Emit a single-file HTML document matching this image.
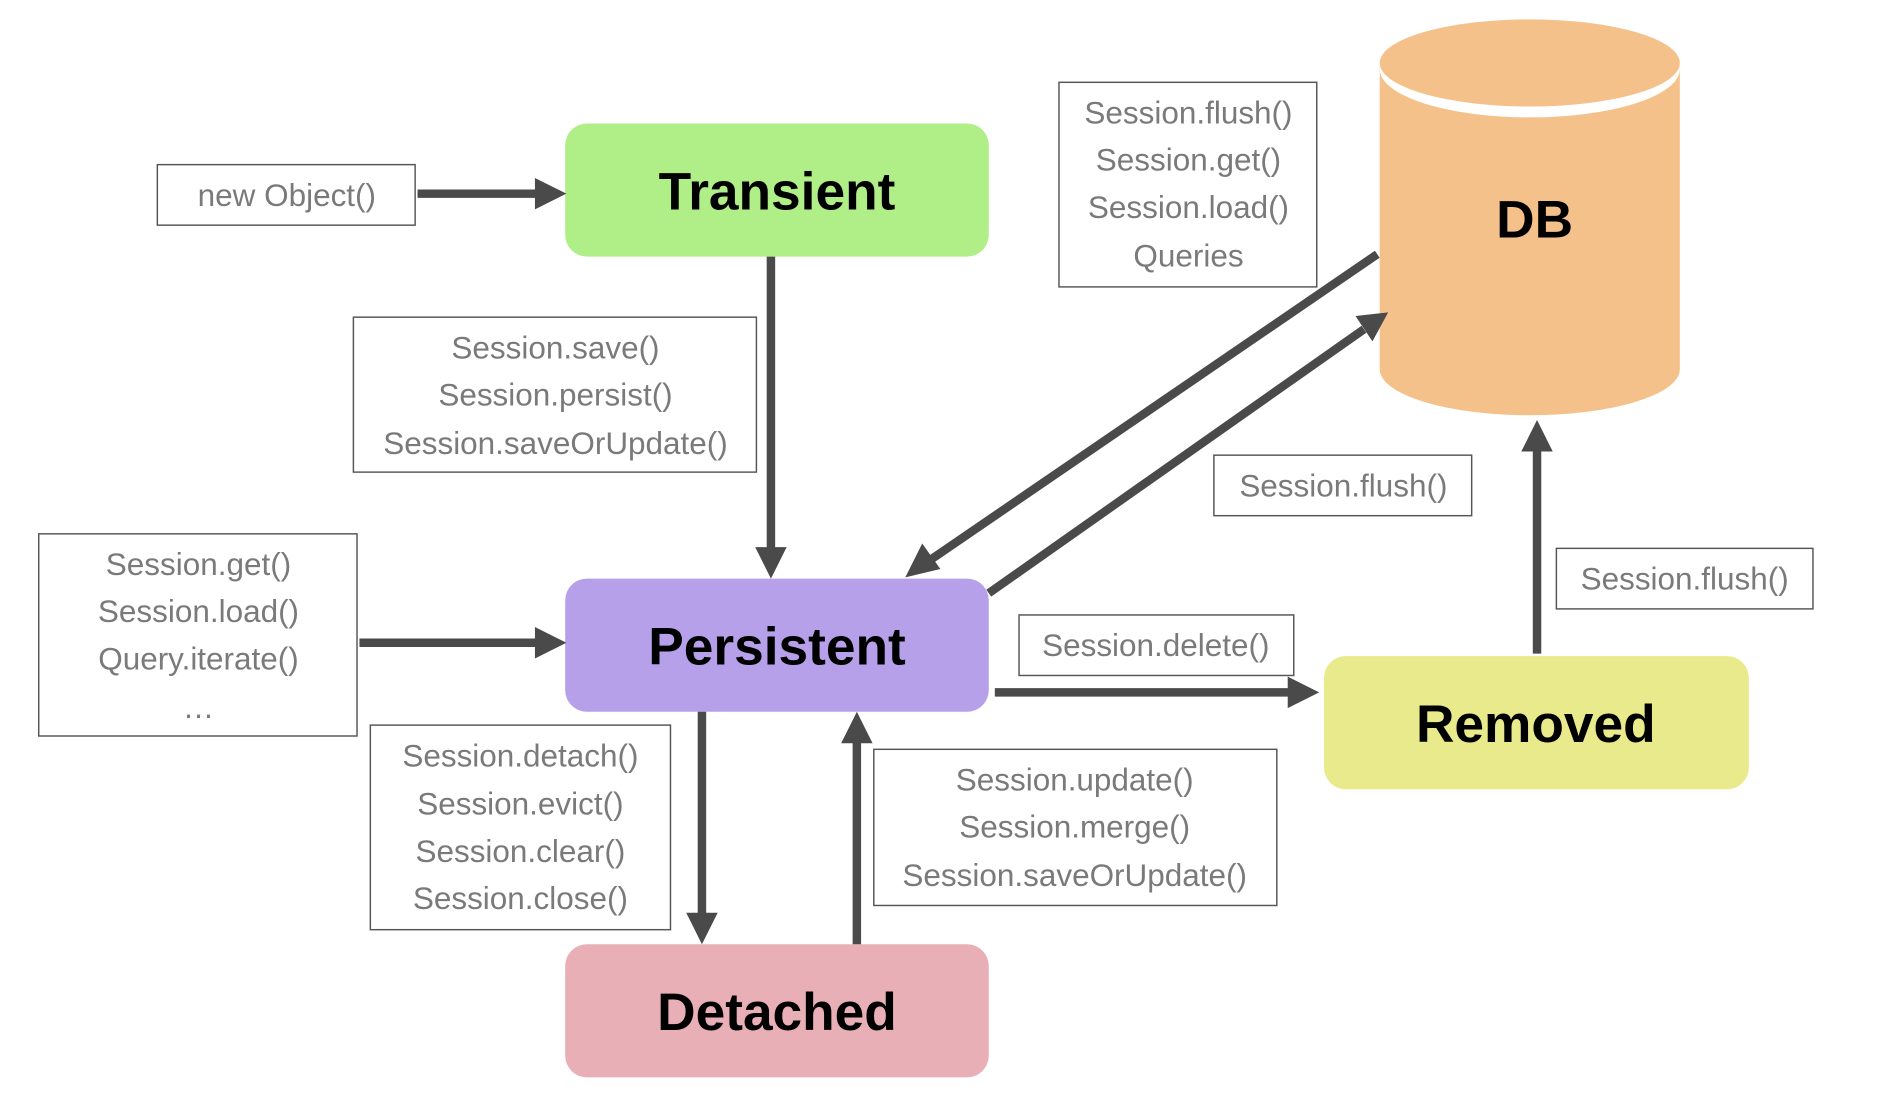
<!DOCTYPE html>
<html><head><meta charset="utf-8"><style>
html,body{margin:0;padding:0;background:#fff;}
svg{display:block;}
.lbl{font-family:"Liberation Sans",sans-serif;font-size:26px;fill:#7a7a7a;text-anchor:middle;}
.ttl{font-family:"Liberation Sans",sans-serif;font-size:44px;font-weight:bold;fill:#000;text-anchor:middle;}
.box{fill:#fff;stroke:#555;stroke-width:1.2;}
.ln{stroke:#4a4a4a;stroke-width:7;fill:none;}
.ah{fill:#4a4a4a;}
</style></head><body>
<svg width="1888" height="1104" viewBox="0 0 1560 912" preserveAspectRatio="none" xmlns="http://www.w3.org/2000/svg">
<!-- DB cylinder -->
<path d="M1140,55 L1140,305 A124,38 0 0 0 1388,305 L1388,55 Z" fill="#f5c18a"/>
<ellipse cx="1264" cy="57" rx="124" ry="40" fill="#fff"/>
<ellipse cx="1264" cy="52" rx="124" ry="36" fill="#f5c18a"/>
<text class="ttl" x="1268" y="196">DB</text>

<!-- nodes -->
<rect x="467" y="102" width="350" height="110" rx="18" fill="#b0ee88"/>
<text class="ttl" x="642" y="173">Transient</text>
<rect x="467" y="478" width="350" height="110" rx="18" fill="#b7a0ea"/>
<text class="ttl" x="642" y="549">Persistent</text>
<rect x="467" y="780" width="350" height="110" rx="18" fill="#e8b0b6"/>
<text class="ttl" x="642" y="851">Detached</text>
<rect x="1094" y="542" width="351" height="110" rx="18" fill="#e8ea8c"/>
<text class="ttl" x="1269" y="613">Removed</text>

<!-- arrows -->
<line class="ln" x1="345" y1="160" x2="445" y2="160"/><polygon class="ah" points="468,160 442,147 442,173"/>
<line class="ln" x1="637" y1="212" x2="637" y2="455"/><polygon class="ah" points="637,478 624,452 650,452"/>
<line class="ln" x1="297" y1="531" x2="445" y2="531"/><polygon class="ah" points="468,531 442,518 442,544"/>
<line class="ln" x1="1138" y1="210" x2="768" y2="463"/><polygon class="ah" points="748,477 762,449 777,470"/>
<line class="ln" x1="817" y1="490" x2="1127" y2="272"/><polygon class="ah" points="1147,258 1120,261 1134,282"/>
<line class="ln" x1="822" y1="572" x2="1065" y2="572"/><polygon class="ah" points="1090,572 1064,559 1064,585"/>
<line class="ln" x1="1270" y1="540" x2="1270" y2="370"/><polygon class="ah" points="1270,347 1257,373 1283,373"/>
<line class="ln" x1="580" y1="588" x2="580" y2="757"/><polygon class="ah" points="580,780 567,754 593,754"/>
<line class="ln" x1="708" y1="780" x2="708" y2="611"/><polygon class="ah" points="708,588 695,614 721,614"/>

<!-- labels -->
<rect class="box" x="130" y="136" width="213" height="50"/>
<text class="lbl" x="237" y="170">new Object()</text>

<rect class="box" x="292" y="262" width="333" height="128"/>
<text class="lbl" x="459" y="296">Session.save()</text>
<text class="lbl" x="459" y="335">Session.persist()</text>
<text class="lbl" x="459" y="375">Session.saveOrUpdate()</text>

<rect class="box" x="32" y="441" width="263" height="167"/>
<text class="lbl" x="164" y="475">Session.get()</text>
<text class="lbl" x="164" y="514">Session.load()</text>
<text class="lbl" x="164" y="553">Query.iterate()</text>
<text class="lbl" x="164" y="593">…</text>

<rect class="box" x="875" y="68" width="213" height="169"/>
<text class="lbl" x="982" y="102">Session.flush()</text>
<text class="lbl" x="982" y="141">Session.get()</text>
<text class="lbl" x="982" y="180">Session.load()</text>
<text class="lbl" x="982" y="220">Queries</text>

<rect class="box" x="1003" y="376" width="213" height="50"/>
<text class="lbl" x="1110" y="410">Session.flush()</text>

<rect class="box" x="1286" y="453" width="212" height="50"/>
<text class="lbl" x="1392" y="487">Session.flush()</text>

<rect class="box" x="842" y="508" width="227" height="50"/>
<text class="lbl" x="955" y="542">Session.delete()</text>

<rect class="box" x="306" y="599" width="248" height="169"/>
<text class="lbl" x="430" y="633">Session.detach()</text>
<text class="lbl" x="430" y="673">Session.evict()</text>
<text class="lbl" x="430" y="712">Session.clear()</text>
<text class="lbl" x="430" y="751">Session.close()</text>

<rect class="box" x="722" y="619" width="333" height="129"/>
<text class="lbl" x="888" y="653">Session.update()</text>
<text class="lbl" x="888" y="692">Session.merge()</text>
<text class="lbl" x="888" y="732">Session.saveOrUpdate()</text>
</svg>
</body></html>
